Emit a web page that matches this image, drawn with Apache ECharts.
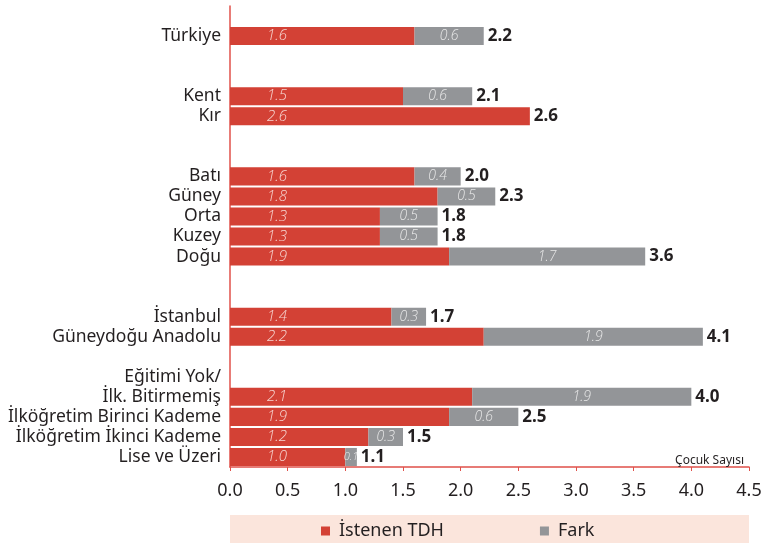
<!DOCTYPE html>
<html>
<head>
<meta charset="utf-8">
<script src="https://cdn.jsdelivr.net/npm/echarts@6/dist/echarts.min.js"></script>
<style>
html, body { margin: 0; padding: 0; background: #fff; }
#main { width: 776px; height: 543px; }
</style>
</head>
<body>
<div id="main"></div>
<script>
// satırlar (boş satırlar gruplar arası boşluk)
var categories = ['', 'Türkiye', '', '', 'Kent', 'Kır', '', '', 'Batı', 'Güney', 'Orta', 'Kuzey', 'Doğu', '', '',
    'İstanbul', 'Güneydoğu Anadolu', '', 'Eğitimi Yok/', 'İlk. Bitirmemiş', 'İlköğretim Birinci Kademe',
    'İlköğretim İkinci Kademe', 'Lise ve Üzeri'];
var istenen = [null, 1.6, null, null, 1.5, 2.6, null, null, 1.6, 1.8, 1.3, 1.3, 1.9, null, null,
    1.4, 2.2, null, null, 2.1, 1.9, 1.2, 1.0];
var fark = [null, 0.6, null, null, 0.6, null, null, null, 0.4, 0.5, 0.5, 0.5, 1.7, null, null,
    0.3, 1.9, null, null, 1.9, 0.6, 0.3, 0.1];
var toplam = [null, 2.2, null, null, 2.1, 2.6, null, null, 2.0, 2.3, 1.8, 1.8, 3.6, null, null,
    1.7, 4.1, null, null, 4.0, 2.5, 1.5, 1.1];
var xTicks = ['0.0', '0.5', '1.0', '1.5', '2.0', '2.5', '3.0', '3.5', '4.0', '4.5'];
// grup aralarında tick yok
var skipTicks = [3, 7, 14, 18];

var font = 'Noto Sans';
var innerFont = 'Open Sans';
var myChart = echarts.init(document.getElementById('main'));

// çok kısa gri çubuklarda etiket sığsın diye küçük yazı
var farkData = fark.map(function (v) {
    if (v !== null && v < 0.2) {
        return { value: v, label: { fontSize: 11 } };
    }
    return v;
});

var option = {
    animation: false,
    textStyle: { fontFamily: font },
    title: {
        text: 'Çocuk Sayısı',
        right: 27,
        top: 450,
        textStyle: { fontSize: 12, fontWeight: 'normal', color: '#231F20', fontFamily: font }
    },
    graphic: [{
        type: 'rect',
        shape: { x: 230, y: 515, width: 519, height: 28 },
        style: { fill: '#FBE5DC' },
        z: -1
    }],
    legend: {
        data: ['İstenen TDH', 'Fark'],
        left: 316,
        top: 517,
        icon: 'rect',
        itemWidth: 9,
        itemHeight: 9,
        itemGap: 96,
        textStyle: { fontSize: 18, color: '#231F20', fontFamily: font, padding: [0, 0, 0, 4] }
    },
    grid: { left: 230, right: 27, top: 6, bottom: 76 },
    xAxis: {
        type: 'value',
        min: 0,
        max: 4.5,
        interval: 0.5,
        splitLine: { show: false },
        axisLine: { show: true, lineStyle: { color: '#E0504A', width: 1.5 } },
        axisTick: { show: true, length: 4, lineStyle: { color: '#E0504A' } },
        axisLabel: {
            fontSize: 18, color: '#231F20', margin: 15,
            formatter: function (v) { return xTicks[Math.round(v / 0.5)]; }
        }
    },
    yAxis: {
        type: 'category',
        inverse: true,
        data: categories,
        axisLine: { lineStyle: { color: '#E0504A', width: 1.5 } },
        axisTick: {
            length: 4,
            lineStyle: { color: '#E0504A' },
            interval: function (i) { return skipTicks.indexOf(i) < 0; }
        },
        axisLabel: { interval: 0, fontSize: 17.5, color: '#231F20', margin: 9 }
    },
    series: [
        {
            name: 'İstenen TDH',
            type: 'bar',
            stack: 'tdh',
            data: istenen,
            barCategoryGap: '10%',
            barGap: '-100%',
            itemStyle: { color: '#D34135' },
            label: {
                show: true,
                position: 'insideLeft',
                distance: 37,
                fontSize: 15,
                fontStyle: 'italic',
                fontWeight: 300,
                fontFamily: innerFont,
                color: '#F6D5D0',
                overflow: 'none',
                formatter: function (p) { return p.value.toFixed(1); }
            }
        },
        {
            name: 'Fark',
            type: 'bar',
            stack: 'tdh',
            data: farkData,
            itemStyle: { color: '#939598' },
            label: {
                show: true,
                position: 'inside',
                fontSize: 14,
                fontStyle: 'italic',
                fontWeight: 300,
                fontFamily: innerFont,
                color: '#E8E8E8',
                overflow: 'none',
                formatter: function (p) { return p.value.toFixed(1); }
            }
        },
        {
            name: 'Toplam',
            type: 'bar',
            data: toplam,
            itemStyle: { color: 'rgba(0,0,0,0)' },
            z: 1,
            silent: true,
            label: {
                show: true,
                position: 'right',
                distance: 4,
                fontSize: 17,
                fontWeight: 'bold',
                color: '#231F20',
                formatter: function (p) { return p.value.toFixed(1); }
            }
        }
    ]
};

myChart.setOption(option);
</script>
</body>
</html>
